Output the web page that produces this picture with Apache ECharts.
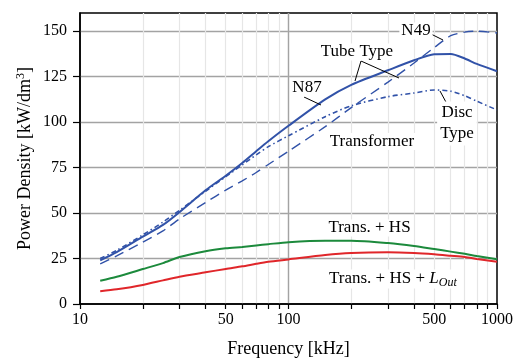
<!DOCTYPE html>
<html><head><meta charset="utf-8">
<script src="https://cdn.jsdelivr.net/npm/echarts@6/dist/echarts.min.js"></script>
<style>html,body{margin:0;padding:0;background:#fff}#c{width:517px;height:363px}</style>
</head><body><div id="c"></div>
<script>
// ---- data (frequency in kHz, power density in kW/dm^3) ----
const freq  = [12.5, 15, 20, 25, 30, 40, 50, 60, 70, 80, 100, 150, 200, 300, 400, 500, 600, 700, 800, 1000];
const n87   = [24, 28.5, 37, 43.5, 50.5, 62.5, 70.5, 77.5, 84, 89.5, 98, 112.5, 120.5, 128.5, 134, 137.3, 137.5, 135, 132, 128];
const disc  = [25, 29.5, 38, 45, 51.5, 62, 70, 76.5, 82, 86.5, 92.5, 103, 109, 114, 116, 117.7, 117, 114.5, 111.5, 106.7];
const n49   = [22, 26.5, 34, 40.2, 46.8, 55.8, 62.6, 67.7, 72.3, 76.7, 84, 97.5, 108, 122, 132.5, 141, 147.5, 149.5, 150, 149];
const transHS   = [12.8, 15, 19.2, 22.5, 25.8, 29, 30.6, 31.4, 32.2, 32.9, 34, 34.8, 34.8, 33.5, 31.9, 30.2, 28.8, 27.6, 26.4, 24.6];
const transHSL  = [7, 8.1, 10.5, 13, 15, 17.4, 19.3, 20.7, 22.1, 23.2, 24.5, 26.9, 28, 28.4, 28, 27.3, 26.5, 25.8, 24.8, 23.2];
const xLabelTicks = [10, 50, 100, 500, 1000];
const xMinorTicks = [10, 20, 30, 40, 50, 60, 70, 80, 90, 100, 200, 300, 400, 500, 600, 700, 800, 900, 1000];
const xMajorGrid = [100];
const yTicks = [0, 25, 50, 75, 100, 125, 150];

const FF = 'Liberation Serif, Times New Roman, serif';
const BLUE = '#3152a8', GREEN = '#1c8a3c', RED = '#e0262a';
const lg = v => Math.log10(v);
const pts = arr => freq.map((f, i) => [lg(f), arr[i]]);

const chart = echarts.init(document.getElementById('c'), null, {renderer: 'canvas'});
const lineSeries = (data, color, type, width) => ({
  type: 'line', data: pts(data), showSymbol: false, smooth: 0.25,
  lineStyle: {color: color, width: width, type: type}, z: 3
});
chart.setOption({
  animation: false,
  backgroundColor: '#fff',
  grid: {left: 80, right: 20, top: 13, bottom: 58, show: true, borderColor: '#000', borderWidth: 1.5, backgroundColor: 'transparent'},
  xAxis: [{
    type: 'value', min: 1, max: 3, position: 'bottom',
    name: 'Frequency [kHz]', nameLocation: 'middle', nameGap: 36, nameMoveOverlap: false,
    nameTextStyle: {fontFamily: FF, fontSize: 18, color: '#000'},
    axisLine: {lineStyle: {color: '#000', width: 1.5}},
    axisTick: {customValues: xMinorTicks.map(lg), length: 5, inside: false, lineStyle: {color: '#000', width: 1.2}},
    axisLabel: {customValues: xLabelTicks.map(lg), formatter: v => String(Math.round(Math.pow(10, v))), fontFamily: FF, fontSize: 16, color: '#000', margin: 8},
    splitLine: {show: true, showMinLine: false, showMaxLine: false, lineStyle: {color: '#e6e6e6', width: 1.2}}
  }, {
    type: 'value', min: 1, max: 3, position: 'top',
    axisLine: {show: false}, axisLabel: {show: false},
    axisTick: {show: false, customValues: xMajorGrid.map(lg)},
    splitLine: {show: true, lineStyle: {color: '#a3a3a3', width: 1.4}}
  }],
  yAxis: {
    type: 'value', min: 0, max: 160, interval: 25,
    name: '{a|Power Density [kW/dm}{s|3}{a|]}', nameLocation: 'middle', nameGap: 45, nameMoveOverlap: false,
    nameTextStyle: {color: '#000', rich: {a: {fontFamily: FF, fontSize: 18, color: '#000'}, s: {fontFamily: FF, fontSize: 12, color: '#000', padding: [0, 0, 8, 0]}}},
    axisLine: {show: true, lineStyle: {color: '#000', width: 1.5}},
    axisTick: {show: true, customValues: yTicks, length: 7, lineStyle: {color: '#000', width: 1.2}},
    axisLabel: {customValues: yTicks, fontFamily: FF, fontSize: 16, color: '#000', margin: 13},
    splitLine: {show: true, showMinLine: false, lineStyle: {color: '#a3a3a3', width: 1.4}}
  },
  series: [
    lineSeries(n87, BLUE, 'solid', 2),
    lineSeries(disc, BLUE, [5, 3, 1.5, 3], 1.6),
    lineSeries(n49, BLUE, [10, 6], 1.4),
    lineSeries(transHS, GREEN, 'solid', 2),
    lineSeries(transHSL, RED, 'solid', 2)
  ],
  graphic: [
    {type: 'line', z: 100, shape: {x1: 431, y1: 34, x2: 443, y2: 40}, style: {stroke: '#000', lineWidth: 1}},
    {type: 'line', z: 100, shape: {x1: 361, y1: 61, x2: 355, y2: 81}, style: {stroke: '#000', lineWidth: 1}},
    {type: 'line', z: 100, shape: {x1: 361, y1: 61, x2: 399, y2: 78}, style: {stroke: '#000', lineWidth: 1}},
    {type: 'line', z: 100, shape: {x1: 304, y1: 97, x2: 321, y2: 105}, style: {stroke: '#000', lineWidth: 1}},
    {type: 'line', z: 100, shape: {x1: 440, y1: 91, x2: 447, y2: 104}, style: {stroke: '#000', lineWidth: 1}},
    {type: 'text', z: 100, x: 416, y: 31, style: {text: 'N49', font: '17px ' + FF, fill: '#000', align: 'center', verticalAlign: 'middle', textAlign: 'center', textVerticalAlign: 'middle', backgroundColor: '#fff', padding: [0, 2]}},
    {type: 'text', z: 100, x: 357, y: 52, style: {text: 'Tube Type', font: '17px ' + FF, fill: '#000', align: 'center', verticalAlign: 'middle', textAlign: 'center', textVerticalAlign: 'middle', backgroundColor: '#fff', padding: [0, 2]}},
    {type: 'text', z: 100, x: 307, y: 88, style: {text: 'N87', font: '17px ' + FF, fill: '#000', align: 'center', verticalAlign: 'middle', textAlign: 'center', textVerticalAlign: 'middle', backgroundColor: '#fff', padding: [0, 2]}},
    {type: 'text', z: 100, x: 457, y: 123.5, style: {text: 'Disc\nType', font: '17px ' + FF, lineHeight: 21, fill: '#000', align: 'center', verticalAlign: 'middle', textAlign: 'center', textVerticalAlign: 'middle', backgroundColor: '#fff', padding: [1, 3]}},
    {type: 'text', z: 100, x: 372, y: 141.5, style: {text: 'Transformer', font: '17px ' + FF, fill: '#000', align: 'center', verticalAlign: 'middle', textAlign: 'center', textVerticalAlign: 'middle', backgroundColor: '#fff', padding: [0, 2]}},
    {type: 'text', z: 100, x: 369.5, y: 228, style: {text: 'Trans. + HS', font: '17px ' + FF, fill: '#000', align: 'center', verticalAlign: 'middle', textAlign: 'center', textVerticalAlign: 'middle', backgroundColor: '#fff', padding: [0, 2]}},
    {type: 'text', z: 100, x: 327, y: 279, style: {
      text: '{a|Trans. + HS + }{i|L}{s|Out}', align: 'left', verticalAlign: 'middle', textAlign: 'left', textVerticalAlign: 'middle', backgroundColor: '#fff', padding: [0, 2],
      rich: {
        a: {fontFamily: FF, fontSize: 17, fill: '#000', color: '#000'},
        i: {fontFamily: FF, fontSize: 17, fontStyle: 'italic', fill: '#000', color: '#000'},
        s: {fontFamily: FF, fontSize: 12, fontStyle: 'italic', fill: '#000', color: '#000', padding: [7, 0, 0, 0]}
      }
    }}
  ]
});
</script></body></html>
